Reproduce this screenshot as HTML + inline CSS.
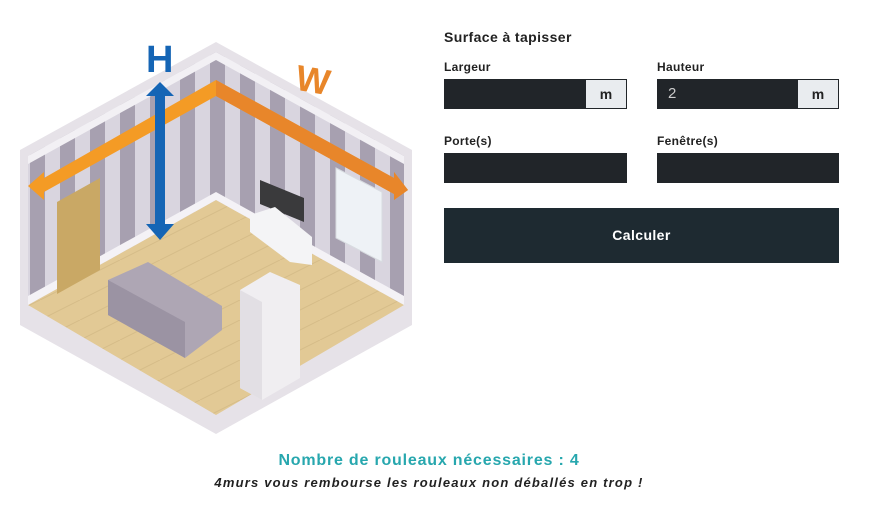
<!DOCTYPE html><html><head><meta charset="utf-8"><style>
body{margin:0;width:874px;height:506px;background:#fff;font-family:"Liberation Sans",sans-serif;position:relative;overflow:hidden;color:#212529}
.a{position:absolute}
.lbl{font-size:12px;font-weight:bold;color:#222;letter-spacing:.3px}
.in{background:#212529;height:30px}
.m{position:absolute;right:1px;top:1px;bottom:1px;width:40px;background:#e9ecef;font-size:14px;font-weight:bold;text-align:center;line-height:28px;color:#222}
</style></head><body>
<svg class="a" style="left:0;top:0" width="430" height="440" viewBox="0 0 430 440">
<defs>
<pattern id="st" width="30" height="400" patternUnits="userSpaceOnUse"><rect width="30" height="400" fill="#d9d5df"/><rect width="15" height="400" fill="#a7a0b0"/></pattern>
<pattern id="fl" width="40" height="20" patternUnits="userSpaceOnUse"><rect width="40" height="20" fill="#e2c995"/><path d="M0 20L40 0" stroke="#d6bc88" stroke-width="1"/></pattern>
</defs>
<polygon points="20,150 216,42 412,150 412,325 216,434 20,325" fill="#e6e2e8"/>
<polygon points="28,156 216,52 216,200 28,305" fill="url(#st)"/>
<polygon points="216,52 404,156 404,305 216,200" fill="url(#st)"/>
<polygon points="28,156 216,52 216,60 28,164" fill="#f2f0f4"/>
<polygon points="216,52 404,156 404,164 216,60" fill="#f2f0f4"/>
<polygon points="28,305 216,200 404,305 216,415" fill="url(#fl)"/>
<polygon points="28,296 216,192 216,200 28,305" fill="#f4f2f6"/>
<polygon points="216,192 404,296 404,305 216,200" fill="#f4f2f6"/>
<polygon points="57,202 100,178 100,270 57,294" fill="#c9a865"/>
<polygon points="336,168 382,192 382,262 336,238" fill="#eef2f6" stroke="#d8dce0"/>
<polygon points="260,180 304,198 304,222 260,204" fill="#3a3a3c"/>
<polygon points="250,215 275,207 312,237 312,265 290,262 250,232" fill="#f4f4f6"/>
<polygon points="108,280 148,262 222,306 222,330 185,358 108,315" fill="#aea6b4"/>
<polygon points="108,280 185,322 185,358 108,315" fill="#9b93a3"/>
<polygon points="240,290 270,272 300,285 300,378 262,400 240,388" fill="#f0eef1"/>
<polygon points="240,290 262,302 262,400 240,388" fill="#e2dfe4"/>
<path d="M28,186 L44,172 L44,178 L216,80 L394,178 L394,172 L408,190 L394,200 L394,194 L216,96 L44,192 L44,200 Z" fill="#f49b25"/>
<path d="M216,80 L394,178 L394,172 L408,190 L394,200 L394,194 L216,96Z" fill="#e8862a"/>
<path d="M160,82 L174,96 L165,96 L165,224 L174,224 L160,240 L146,224 L155,224 L155,96 L146,96Z" fill="#1565b5"/>
<text x="146" y="72" font-size="38" font-weight="bold" fill="#1565b5" font-family="Liberation Sans">H</text>
<text x="296" y="92" font-size="36" font-weight="bold" fill="#e8862a" font-family="Liberation Sans" transform="rotate(10 310 80)">W</text>
</svg>
<div class="a" style="left:444px;top:29px;font-size:14px;font-weight:bold;color:#222;letter-spacing:.4px">Surface à tapisser</div>
<div class="a lbl" style="left:444px;top:60px">Largeur</div>
<div class="a lbl" style="left:657px;top:60px">Hauteur</div>
<div class="a in" style="left:444px;top:79px;width:183px"><div class="m">m</div></div>
<div class="a in" style="left:657px;top:79px;width:182px"><span style="position:absolute;left:11px;top:6px;color:#ccc;font-size:15px">2</span><div class="m">m</div></div>
<div class="a lbl" style="left:444px;top:134px">Porte(s)</div>
<div class="a lbl" style="left:657px;top:134px">Fenêtre(s)</div>
<div class="a in" style="left:444px;top:153px;width:183px"></div>
<div class="a in" style="left:657px;top:153px;width:182px"></div>
<div class="a" style="left:444px;top:208px;width:395px;height:55px;background:#1e2a31;color:#fff;font-size:14px;font-weight:bold;text-align:center;line-height:55px;letter-spacing:.4px">Calculer</div>
<div class="a" style="left:0;width:858px;top:452px;text-align:center;color:#27a7ae;font-size:16px;font-weight:bold;letter-spacing:.8px">Nombre de rouleaux nécessaires : 4</div>
<div class="a" style="left:0;width:858px;top:475px;text-align:center;color:#222;font-size:13px;font-weight:bold;font-style:italic;letter-spacing:1.2px">4murs vous rembourse les rouleaux non déballés en trop !</div>
</body></html>
